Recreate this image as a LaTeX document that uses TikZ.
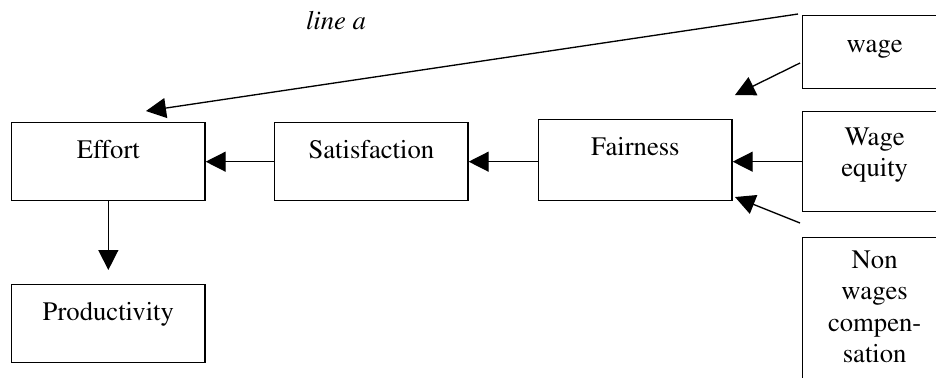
\documentclass[tikz,border=0pt]{standalone}
\usepackage[T1]{fontenc}
\usepackage{mathptmx}
\usetikzlibrary{arrows.meta}
\tikzset{>={Triangle[length=9pt,width=9pt]},
  box/.style = {draw,inner sep=0pt,anchor=north west,minimum width=87pt,
    text height=16.2pt,text depth=18.9pt},
  sidebox/.style = {draw,inner sep=0pt,anchor=north west,text width=64.8pt,
    align=center}
}

\begin{document}
\begin{tikzpicture}[x=0.45pt,y=-0.45pt,line width=0.6pt,
  every node/.style={font=\fontsize{12}{14}\selectfont}]
  \useasboundingbox (0,0) rectangle (936,377);
  \clip (0,0) rectangle (936,377);

  \node[box] (effort) at (11,122) {Effort};
  \node[box] (productivity) at (11,284) {Productivity};
  \node[box] (satisfaction) at (274,122) {Satisfaction};
  \node[box,text depth=20.3pt] (fairness) at (538,119) {Fairness};

  % inputs on the right, cut off by the page edge
  \node[sidebox,text height=16.7pt,text depth=16.2pt] (wage) at (802,15) {wage};
  \node[sidebox,text height=15.3pt,text depth=29.7pt] (equity) at (802,111) {Wage\\equity};
  \node[sidebox,text height=14pt,text depth=55pt] (nonwage) at (802,237)
    {Non\\wages\\compen-\\sation};

  \node[font=\fontsize{12}{14}\selectfont\itshape,anchor=base west] (linea) at (298,29) {line a};

  \coordinate (a start) at (798,14);
  \coordinate (a end) at (146,111);
  \coordinate (w start) at (800,63);
  \coordinate (w end) at (735,95);
  \coordinate (n start) at (800,223);
  \coordinate (n end) at (735,197);

  \draw[->] (a start) -- (a end);
  \draw[->] (w start) -- (w end);
  \draw[->] (n start) -- (n end);
  \draw[->] (equity.west) -- (equity.west -| fairness.east);
  \draw[->] (satisfaction.east -| fairness.west) -- (satisfaction.east);
  \draw[->] (satisfaction.west) -- (effort.east);
  \draw[->,shorten >=6.3pt] (effort.south) -- (productivity.north);
\end{tikzpicture}
\end{document}
